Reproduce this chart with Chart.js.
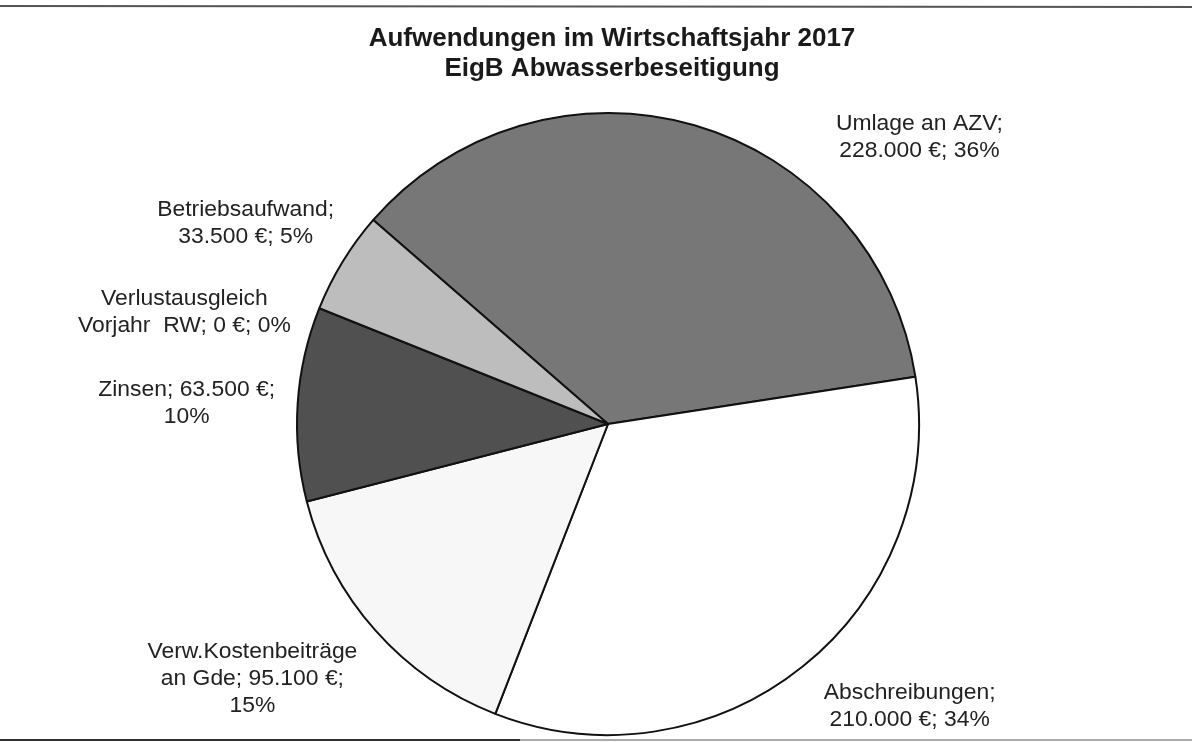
<!DOCTYPE html>
<html>
<head>
<meta charset="utf-8">
<script src="https://cdn.jsdelivr.net/npm/chart.js@4/dist/chart.umd.min.js"></script>
<style>
    html, body { margin: 0; padding: 0; background: #fff; }
    #wrap { width: 1192px; height: 742px; position: relative; }
</style>
</head>
<body>
<div id="wrap"><canvas id="pieChart" width="1192" height="742"></canvas></div>
<script>
// Daten (Aufwendungen 2017)
const categories = ['Umlage an AZV', 'Abschreibungen', 'Verw.Kostenbeiträge an Gde', 'Zinsen', 'Verlustausgleich Vorjahr  RW', 'Betriebsaufwand'];
const values = [228000, 210000, 95100, 63500, 0, 33500];
const percents = ['36%', '34%', '15%', '10%', '0%', '5%'];
const labelLines = [
    ['Umlage an AZV;', '228.000 €; 36%'],
    ['Abschreibungen;', '210.000 €; 34%'],
    ['Verw.Kostenbeiträge', 'an Gde; 95.100 €;', '15%'],
    ['Zinsen; 63.500 €;', '10%'],
    ['Verlustausgleich', 'Vorjahr  RW; 0 €; 0%'],
    ['Betriebsaufwand;', '33.500 €; 5%']
];
const titleLines = ['Aufwendungen im Wirtschaftsjahr 2017', 'EigB Abwasserbeseitigung'];

// Farben / Positionen der Beschriftungen (relativ zum Bogenmittelpunkt)
const sliceColors = ['#777777', '#ffffff', '#f7f7f7', '#505050', '#999999', '#bdbdbd'];
const labelOffsets = [[225, 12], [107, 40], [-123, 49], [-111, 0], [-135, 4], [-97, -38]];

const FONT = '"Liberation Sans", Arial, sans-serif';

// Text etwas breiter zeichnen (wie im Original)
function wideText(ctx, txt, x, y, sx) {
    ctx.save();
    ctx.translate(x, y);
    ctx.scale(sx, 1);
    ctx.fillText(txt, 0, 0);
    ctx.restore();
}

// Rahmenlinien + Titel + Beschriftungen
const decoPlugin = {
    id: 'deco',
    beforeDraw(chart) {
        const ctx = chart.ctx;
        ctx.save();
        ctx.strokeStyle = '#555';
        ctx.lineWidth = 2;
        ctx.beginPath();
        ctx.moveTo(0, 6); ctx.lineTo(1192, 7);
        ctx.stroke();
        ctx.strokeStyle = '#333';
        ctx.beginPath();
        ctx.moveTo(0, 740); ctx.lineTo(520, 740);
        ctx.stroke();
        ctx.strokeStyle = '#aaa';
        ctx.beginPath();
        ctx.moveTo(520, 740); ctx.lineTo(1192, 740);
        ctx.stroke();
        ctx.restore();
    },
    afterDraw(chart) {
        const ctx = chart.ctx;
        ctx.save();
        ctx.fillStyle = '#1a1a1a';
        ctx.textAlign = 'center';
        ctx.textBaseline = 'middle';
        ctx.font = 'bold 26px ' + FONT;
        titleLines.forEach((t, i) => wideText(ctx, t, 612, 39 + i * 30, 1));

        ctx.font = '22px ' + FONT;
        ctx.fillStyle = '#222';
        const arcs = chart.getDatasetMeta(0).data;
        arcs.forEach((arc, i) => {
            const mid = (arc.startAngle + arc.endAngle) / 2;
            const px = arc.x + Math.cos(mid) * arc.outerRadius;
            const py = arc.y + Math.sin(mid) * arc.outerRadius;
            const lines = labelLines[i];
            const cx = px + labelOffsets[i][0];
            const cy = py + labelOffsets[i][1];
            const lh = 27;
            const top = cy - (lines.length - 1) * lh / 2;
            lines.forEach((l, j) => wideText(ctx, l, cx, top + j * lh, 1.04));
        });
        ctx.restore();
    }
};

const ctx = document.getElementById('pieChart').getContext('2d');
new Chart(ctx, {
    type: 'pie',
    data: {
        labels: categories,
        datasets: [{
            data: values,
            backgroundColor: sliceColors,
            borderColor: '#111',
            borderWidth: 2
        }]
    },
    options: {
        responsive: false,
        animation: false,
        rotation: -49,
        layout: { padding: { top: 112, bottom: 6, left: 24, right: 0 } },
        plugins: {
            legend: { display: false },
            tooltip: { enabled: false }
        }
    },
    plugins: [decoPlugin]
});
</script>
</body>
</html>
